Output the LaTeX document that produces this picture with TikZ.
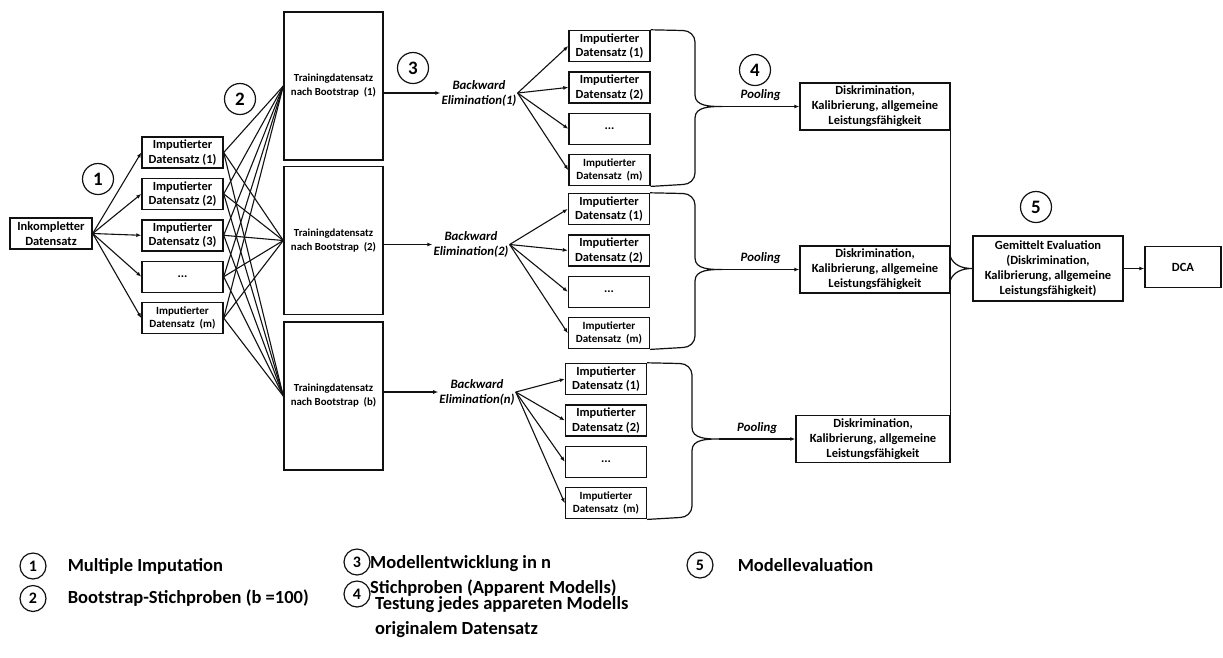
\documentclass[tikz,border=0pt]{standalone}
\usepackage{fontspec}
\setmainfont{Carlito}
\usetikzlibrary{positioning,arrows.meta}
\definecolor{ink}{HTML}{111111}

\begin{document}
\begin{tikzpicture}[
    x=1pt, y=1pt,
    node distance=9pt,
    box/.style={draw=ink, line width=1.4pt, align=center, inner sep=0pt,
                font=\fontsize{12.5}{15}\selectfont\bfseries},
    imp/.style={box, minimum width=81pt, minimum height=31pt,
                font=\fontsize{12.4}{14.5}\selectfont\bfseries},
    impm/.style={imp, font=\fontsize{11}{13.5}\selectfont\bfseries},
    train/.style={box, minimum width=99pt, minimum height=148pt,
                font=\fontsize{10.8}{14}\selectfont\bfseries},
    evalbox/.style={box, minimum width=150pt, minimum height=47pt},
    num/.style={circle, draw=ink, line width=1.2pt, minimum size=31pt, inner sep=0pt,
                font=\fontsize{19}{19}\selectfont\bfseries},
    knum/.style={num, minimum size=26pt, font=\fontsize{16}{16}\selectfont\bfseries},
    lbl/.style={align=center, inner sep=1pt, font=\fontsize{12.8}{15}\selectfont\bfseries\itshape},
    key/.style={anchor=west, align=left, inner sep=0pt, font=\fontsize{18.5}{24.5}\selectfont\bfseries},
    flow/.style={-{Latex[length=5pt,width=4pt]}, draw=ink, line width=1.1pt},
    link/.style={draw=ink, line width=1.1pt},
    brace/.style={draw=ink, line width=1.2pt},
  ]
  \useasboundingbox (0,0) rectangle (1223,-657);

  % step 1: imputation
  \node[box, minimum width=82pt, minimum height=31pt] (inc) at (51,-233.5) {Inkompletter\\Datensatz};
  \node[imp] (a1) at (182.5,-152.5) {Imputierter\\Datensatz (1)};
  \node[imp, below=of a1] (a2) {Imputierter\\Datensatz (2)};
  \node[imp, below=of a2] (a3) {Imputierter\\Datensatz (3)};
  \node[imp, below=of a3] (a4) {...};
  \node[impm, below=of a4] (a5) {Imputierter\\Datensatz~~(m)};
  \node[num] (n1) at (98,-179) {1};
  \foreach \a in {a1,a2,a3,a4,a5}
    \draw[flow] (inc.east) -- (\a.west);

  % step 2: bootstrap samples
  \node[train] (t1) at (333.5,-86) {Trainingdatensatz\\nach Bootstrap~~(1)};
  \node[train] (t2) at (333.5,-240.5) {Trainingdatensatz\\nach Bootstrap~~(2)};
  \node[train] (t3) at (333.5,-396) {Trainingdatensatz\\nach Bootstrap~~(b)};
  \node[num] (n2) at (240,-99) {2};
  \foreach \a in {a1,a2,a3,a4,a5}
    \foreach \t in {t1,t2,t3}
      \draw[link] (\a.east) -- (\t.west);

  % step 3: backward elimination per sample
  \node[num] (n3) at (413,-68) {3};
  \node[lbl] (be1) at (479,-93) {Backward\\Elimination(1)};
  \node[lbl] (be2) at (471,-244.5) {Backward\\Elimination(2)};
  \node[lbl] (be3) at (477,-392) {Backward\\Elimination(n)};
  \draw[flow] (t1.east |- be1) -- (be1);
  \draw[flow] (t2.east |- be2) -- (be2);
  \draw[flow] (t3.east |- be3) -- (be3);

  \node[imp] (b1) at (609.5,-46) {Imputierter\\Datensatz (1)};
  \node[imp, below=of b1] (b2) {Imputierter\\Datensatz (2)};
  \node[imp, below=of b2] (b3) {...};
  \node[impm, below=of b3] (b4) {Imputierter\\Datensatz~~(m)};
  \node[imp] (c1) at (609,-209) {Imputierter\\Datensatz (1)};
  \node[imp, below=of c1] (c2) {Imputierter\\Datensatz (2)};
  \node[imp, below=of c2] (c3) {...};
  \node[impm, below=of c3] (c4) {Imputierter\\Datensatz~~(m)};
  \node[imp] (d1) at (606,-379) {Imputierter\\Datensatz (1)};
  \node[imp, below=of d1] (d2) {Imputierter\\Datensatz (2)};
  \node[imp, below=of d2] (d3) {...};
  \node[impm, below=of d3] (d4) {Imputierter\\Datensatz~~(m)};
  \foreach \n in {1,2,3,4} {
    \draw[flow] (be1.east) -- (b\n.west);
    \draw[flow] (be2.east) -- (c\n.west);
    \draw[flow] (be3.east) -- (d\n.west);
  }

  % step 4: pooling into the performance measures
  \node[evalbox] (dk1) at (875,-106.5) {Diskrimination,\\Kalibrierung, allgemeine\\Leistungsfähigkeit};
  \node[evalbox] (dk2) at (875,-269.5) {Diskrimination,\\Kalibrierung, allgemeine\\Leistungsfähigkeit};
  \node[evalbox, minimum width=154pt] (dk3) at (873,-439) {Diskrimination,\\Kalibrierung, allgemeine\\Leistungsfähigkeit};
  \node[num] (n4) at (755,-70) {4};

  \coordinate (p1) at (722,-106.5);
  \coordinate (p2) at (722,-269.5);
  \coordinate (p3) at (719,-439);
  \draw[brace] (b1.north east) -- (683,-30.5) to[out=0,in=90] (695,-42) -- (695,-95)
    to[out=-90,in=180] (p1) to[out=180,in=90] (695,-118) -- (695,-173)
    to[out=-90,in=0] (683,-184.5) -- (b4.south east);
  \draw[brace] (c1.north east) -- (683,-193.5) to[out=0,in=90] (695,-205) -- (695,-258)
    to[out=-90,in=180] (p2) to[out=180,in=90] (695,-281) -- (695,-336)
    to[out=-90,in=0] (683,-347.5) -- (c4.south east);
  \draw[brace] (d1.north east) -- (680,-363.5) to[out=0,in=90] (692,-375) -- (692,-427.5)
    to[out=-90,in=180] (p3) to[out=180,in=90] (692,-450.5) -- (692,-506)
    to[out=-90,in=0] (680,-517.5) -- (d4.south east);
  \draw[flow] (p1) -- node[lbl, above=4pt] {Pooling} (dk1);
  \draw[flow] (p2) -- node[lbl, above=4pt] {Pooling} (dk2);
  \draw[flow] (p3) -- node[lbl, above=4pt] {Pooling} (dk3);

  % step 5: averaged evaluation
  \node[box, minimum width=150pt, minimum height=65pt] (gem) at (1048,-268.5)
    {Gemittelt Evaluation\\(Diskrimination,\\Kalibrierung, allgemeine\\Leistungsfähigkeit)};
  \node[box, minimum width=76pt, minimum height=41pt] (dca) at (1183,-267) {DCA};
  \node[num] (n5) at (1036,-207) {5};
  \draw[link] (dk1.south east) -- (dk3.north east);
  \draw[brace] (950,-256) to[out=-70,in=180] (gem.west) to[out=180,in=70] (950,-281);
  \draw[flow] (gem.east) -- (gem.east -| dca.west);

  % legend
  \node[knum] (k1) at (33,-566) {1};
  \node[key, right=21pt of k1] (k1t) {Multiple Imputation};
  \node[knum] (k2) at (33,-598.5) {2};
  \node[key, right=21pt of k2] (k2t) {Bootstrap-Stichproben (b =100)};
  \node[knum] (k3) at (357,-562) {3};
  \node[key] (k3t) at (370,-576) {Modellentwicklung in n\\Stichproben (Apparent Modells)};
  \node[knum] (k4) at (357,-594) {4};
  \node[key] (k4t) at (375,-617) {Testung jedes appareten Modells\\originalem Datensatz};
  \node[knum] (k5) at (700,-565) {5};
  \node[key, right=24pt of k5] (k5t) {Modellevaluation};
\end{tikzpicture}
\end{document}
